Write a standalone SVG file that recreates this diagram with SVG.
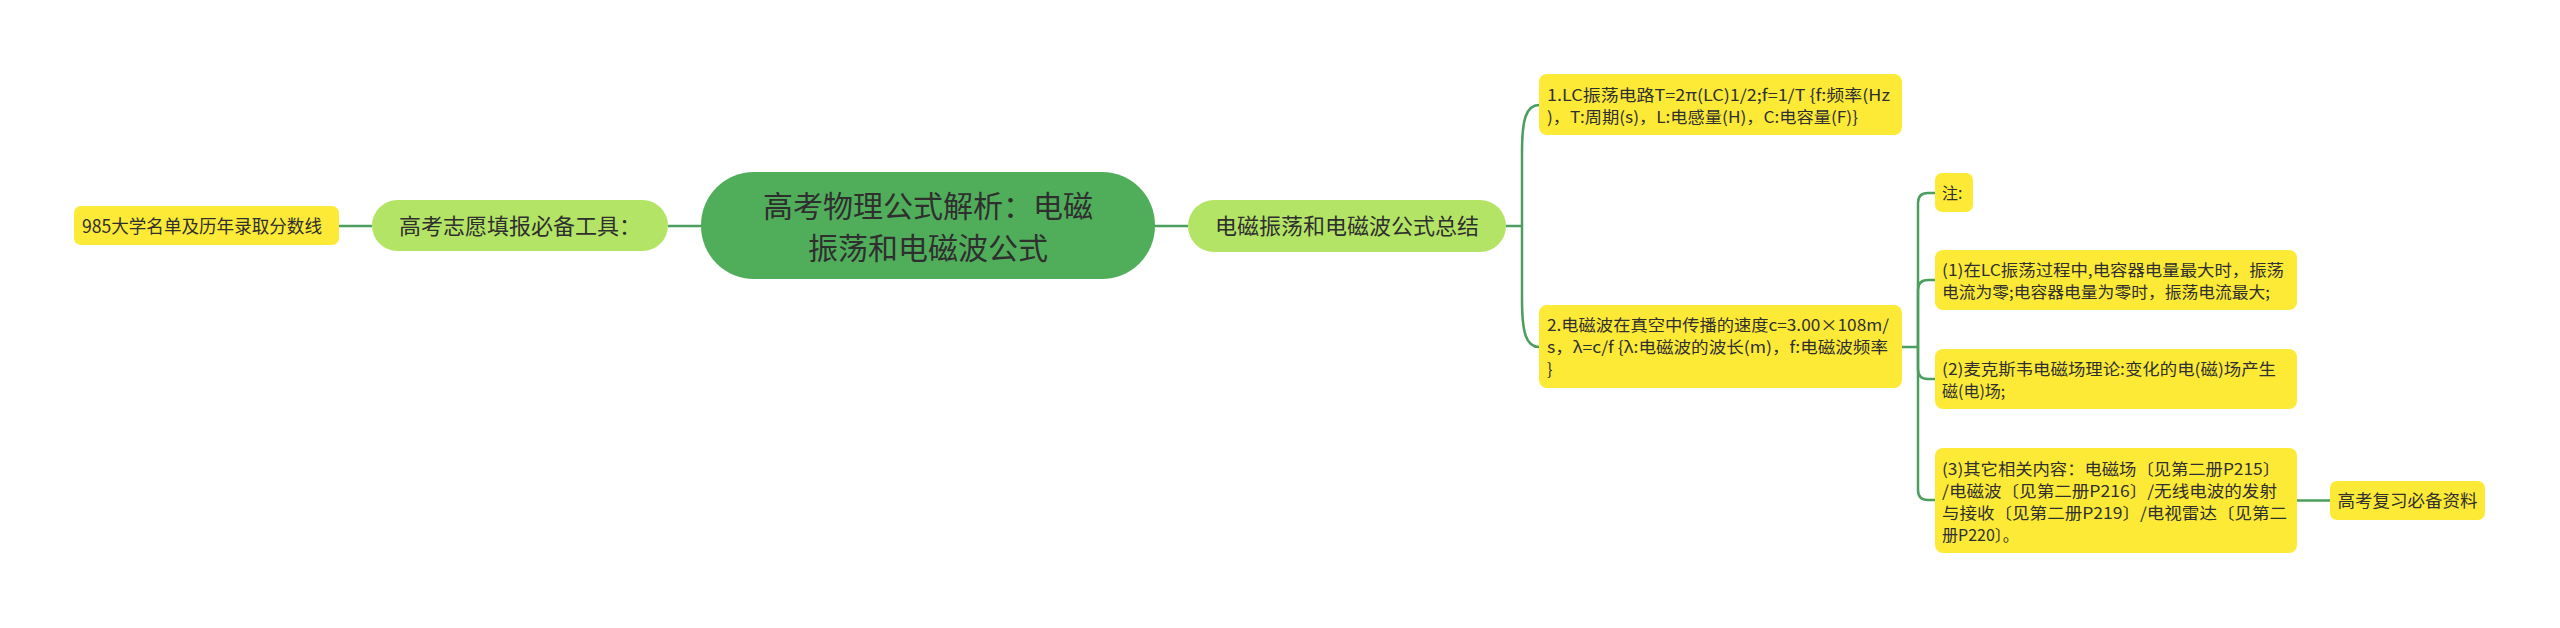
<svg xmlns="http://www.w3.org/2000/svg" width="2560" height="628" viewBox="0 0 2560 628">
<style>
text{font-family:"Noto Sans CJK SC","Noto Sans",sans-serif;fill:#2f2f2f}
.y{fill:#fdea36}
.l1{fill:#b4e465}
.root{fill:#50ae5b}
.s{font-size:16px}
.m{font-size:22px}
.c{text-anchor:middle}
#connectors path{fill:none;stroke:#4b9e5d;stroke-width:2.5}
</style>
<rect width="2560" height="628" fill="#ffffff"/>
<g id="connectors">
<path d="M339,226 H372"/>
<path d="M668,226 H701"/>
<path d="M1155,226 H1188"/>
<path d="M1506,226 H1522"/>
<path d="M1522,226 V152 C1522,120 1526,105 1539,105"/>
<path d="M1522,226 V300 C1522,332 1526,347 1539,347"/>
<path d="M1902,347 H1918"/>
<path d="M1918,347 V203 Q1918,193 1928,193 H1935"/>
<path d="M1918,347 V290 Q1918,280 1928,280 H1935"/>
<path d="M1918,347 V369 Q1918,379 1928,379 H1935"/>
<path d="M1918,347 V490 Q1918,500 1928,500 H1935"/>
<path d="M2297,500.5 H2330"/>
</g>
<g id="root">
<rect class="root" x="701" y="172" width="454" height="107" rx="53"/>
<text class="c" x="928" y="217" font-size="30">高考物理公式解析：电磁</text>
<text class="c" x="928" y="258.5" font-size="30">振荡和电磁波公式</text>
</g>
<g id="tool">
<rect class="l1" x="372" y="200" width="296" height="51" rx="25.5"/>
<text class="m c" x="520" y="234.4">高考志愿填报必备工具：</text>
</g>
<g id="list985">
<rect class="y" x="74" y="206" width="265" height="39" rx="7"/>
<text x="82" y="232.5" font-size="18" textLength="240" lengthAdjust="spacingAndGlyphs">985大学名单及历年录取分数线</text>
</g>
<g id="summary">
<rect class="l1" x="1188" y="200" width="318" height="52" rx="26"/>
<text class="m c" x="1347" y="234">电磁振荡和电磁波公式总结</text>
</g>
<g id="lc">
<rect class="y" x="1539" y="74" width="363" height="61" rx="8"/>
<text class="s" x="1547" y="101" textLength="343" lengthAdjust="spacingAndGlyphs">1.LC振荡电路T=2π(LC)1/2;f=1/T {f:频率(Hz</text>
<text class="s" x="1547" y="123" textLength="311" lengthAdjust="spacingAndGlyphs">)，T:周期(s)，L:电感量(H)，C:电容量(F)}</text>
</g>
<g id="wave">
<rect class="y" x="1539" y="305" width="363" height="83" rx="8"/>
<text class="s" x="1547" y="331" textLength="342" lengthAdjust="spacingAndGlyphs">2.电磁波在真空中传播的速度c=3.00×108m/</text>
<text class="s" x="1547" y="353" textLength="341" lengthAdjust="spacingAndGlyphs">s，λ=c/f {λ:电磁波的波长(m)，f:电磁波频率</text>
<text class="s" x="1547" y="375">}</text>
</g>
<g id="note">
<rect class="y" x="1935" y="173" width="38" height="39" rx="7"/>
<text class="s" x="1942" y="199">注:</text>
</g>
<g id="note1">
<rect class="y" x="1935" y="250" width="362" height="60" rx="8"/>
<text class="s" x="1942" y="276" textLength="342" lengthAdjust="spacingAndGlyphs">(1)在LC振荡过程中,电容器电量最大时，振荡</text>
<text class="s" x="1942" y="298" textLength="328" lengthAdjust="spacingAndGlyphs">电流为零;电容器电量为零时，振荡电流最大;</text>
</g>
<g id="note2">
<rect class="y" x="1935" y="349" width="362" height="60" rx="8"/>
<text class="s" x="1942" y="375" textLength="334" lengthAdjust="spacingAndGlyphs">(2)麦克斯韦电磁场理论:变化的电(磁)场产生</text>
<text class="s" x="1942" y="397">磁(电)场;</text>
</g>
<g id="note3">
<rect class="y" x="1935" y="448" width="362" height="105" rx="8"/>
<text class="s" x="1942" y="475" textLength="338" lengthAdjust="spacingAndGlyphs">(3)其它相关内容：电磁场〔见第二册P215〕</text>
<text class="s" x="1942" y="497" textLength="335" lengthAdjust="spacingAndGlyphs">/电磁波〔见第二册P216〕/无线电波的发射</text>
<text class="s" x="1942" y="519" textLength="345" lengthAdjust="spacingAndGlyphs">与接收〔见第二册P219〕/电视雷达〔见第二</text>
<text class="s" x="1942" y="541">册P220〕。</text>
</g>
<g id="review">
<rect class="y" x="2330" y="481" width="155" height="39" rx="7"/>
<text class="c" x="2407.5" y="507" font-size="17.5">高考复习必备资料</text>
</g>
</svg>
